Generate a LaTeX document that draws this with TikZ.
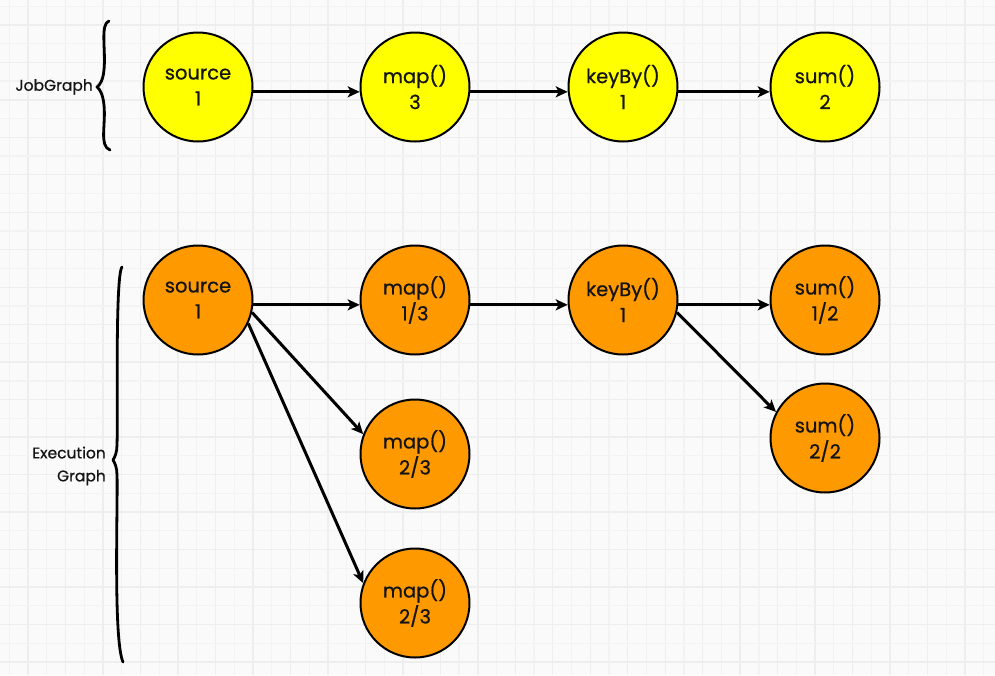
\documentclass[tikz,border=0pt]{standalone}
\usepackage{fontspec}
\setmainfont{Poppins}
\newfontfamily\heavyfont{Poppins}[FakeBold=0.7]
\usetikzlibrary{arrows.meta}
\definecolor{bg}{RGB}{250,250,250}
\definecolor{gridlight}{RGB}{243,243,243}
\definecolor{griddark}{RGB}{238,238,238}
\definecolor{jobyellow}{RGB}{255,255,0}
\definecolor{exeorange}{RGB}{255,153,0}
\definecolor{ink}{RGB}{20,20,20}
\tikzset{
  opnode/.style={circle, draw=black, line width=2pt, minimum size=109pt, inner sep=0pt,
    align=center, text=ink, font=\heavyfont\fontsize{19.5}{26}\selectfont},
  jobnode/.style={opnode, fill=jobyellow},
  exenode/.style={opnode, fill=exeorange},
  arr/.style={line width=3pt, -{Stealth[length=12pt,width=11pt,inset=3pt]}},
  bracestyle/.style={line width=2.8pt, line cap=round, line join=round},
  lbl/.style={text=ink, font=\heavyfont\fontsize{15.5}{23}\selectfont, align=right, inner sep=0pt}
}
\begin{document}
\begin{tikzpicture}[x=1pt,y=-1pt]
\useasboundingbox (0,0) rectangle (995,675);
\fill[bg] (0,0) rectangle (995,675);
% grid
\foreach \i in {0,...,53}{
  \pgfmathsetmacro\xx{9.3+18.74*\i}
  \ifodd\i
    \draw[griddark, line width=1.4pt] (\xx,0) -- (\xx,675);
  \else
    \draw[gridlight, line width=1.2pt] (\xx,0) -- (\xx,675);
  \fi
}
\foreach \i in {0,...,36}{
  \pgfmathsetmacro\yy{6.1+18.74*\i}
  \ifodd\i
    \draw[griddark, line width=1.4pt] (0,\yy) -- (995,\yy);
  \else
    \draw[gridlight, line width=1.2pt] (0,\yy) -- (995,\yy);
  \fi
}
% JobGraph
\node[jobnode] (js) at (198,87) {source\\1};
\node[jobnode] (jm) at (415,87) {map()\\3};
\node[jobnode] (jk) at (623,87) {keyBy()\\1};
\node[jobnode] (ju) at (825,87) {sum()\\2};
\draw[arr] (js.-5) -- (jm.185);
\draw[arr] (jm.-5) -- (jk.185);
\draw[arr] (jk.-5) -- (ju.185);
% Execution graph
\node[exenode] (es) at (198,300) {source\\1};
\node[exenode] (em1) at (415,300) {map()\\1/3};
\node[exenode] (em2) at (415,454) {map()\\2/3};
\node[exenode] (em3) at (415,603) {map()\\2/3};
\node[exenode] (ek) at (623,300) {keyBy()\\1};
\node[exenode] (eu1) at (825,300) {sum()\\1/2};
\node[exenode] (eu2) at (825,438) {sum()\\2/2};
\draw[arr] (es.-5) -- (em1.185);
\draw[arr] (es.-13) -- (em2.159);
\draw[arr] (es.-25) -- (em3.159);
\draw[arr] (em1.-5) -- (ek.185);
\draw[arr] (ek.-5) -- (eu1.185);
\draw[arr] (ek.-13) -- (eu2.152);
% braces
\draw[bracestyle] (109,21) .. controls (100,24) and (106,50) .. (104,70)
  .. controls (103,80) and (100,85) .. (97,87)
  .. controls (100,89) and (103,95) .. (104,105)
  .. controls (106,125) and (99,146) .. (110,150);
\draw[bracestyle] (122,267) .. controls (115,276) and (118,420) .. (117,445)
  .. controls (117,452) and (115,457) .. (113,460)
  .. controls (115,463) and (117,468) .. (117,475)
  .. controls (118,500) and (113,640) .. (123,662);
\node[lbl, anchor=east] (jlabel) at (93,87) {JobGraph};
\node[lbl, anchor=east] (elabel) at (106,466) {Execution\\Graph};
\end{tikzpicture}
\end{document}
